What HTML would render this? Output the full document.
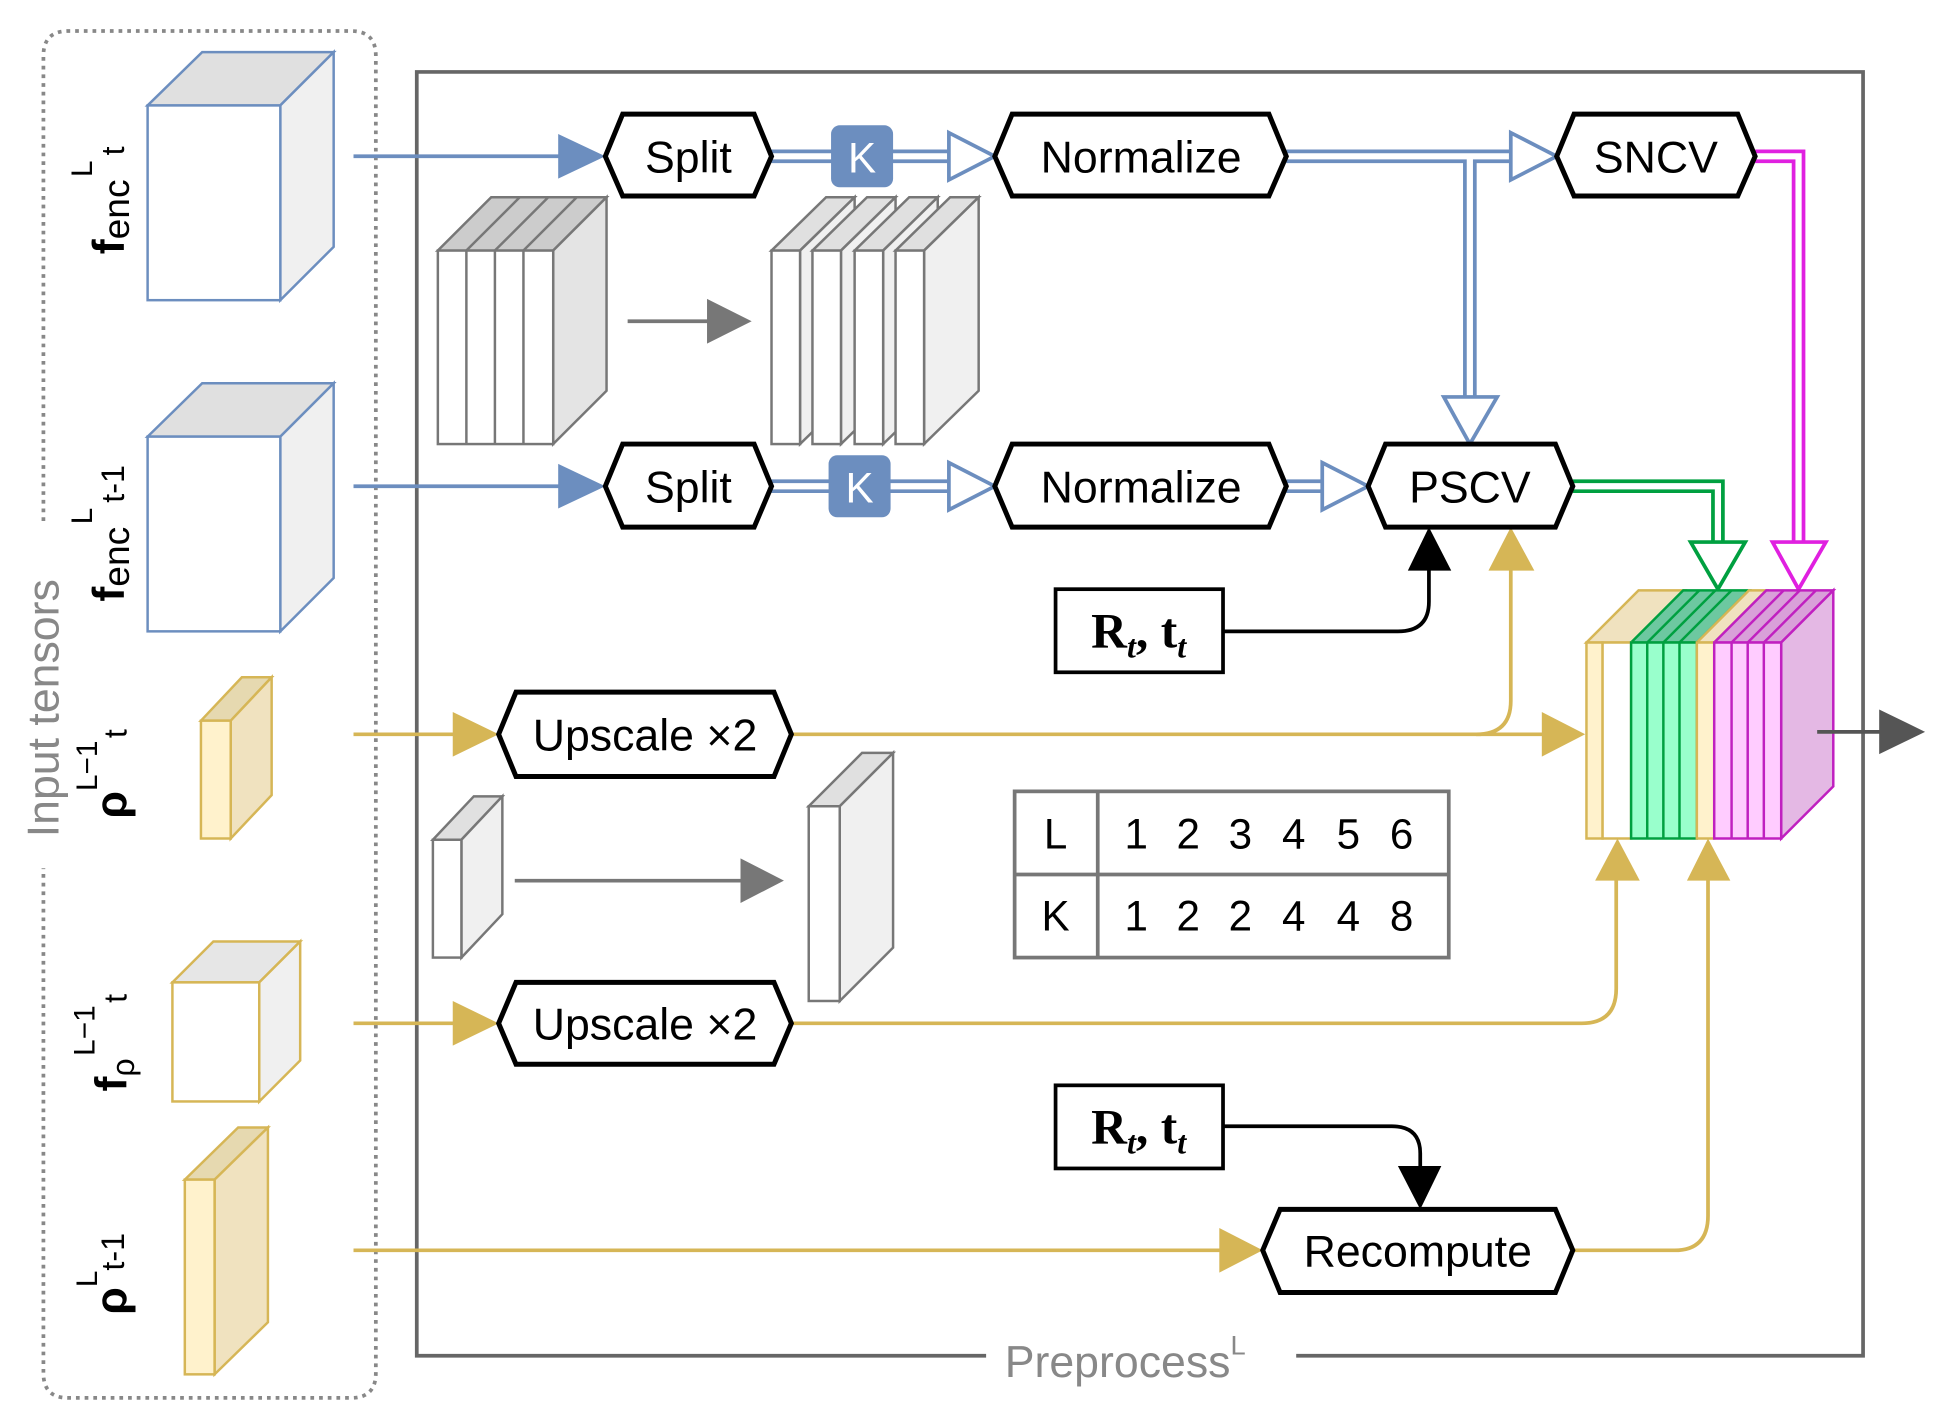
<!DOCTYPE html>
<html><head><meta charset="utf-8"><style>html,body{margin:0;padding:0;background:#fff}svg{display:block}</style></head><body>
<svg width="1935" height="1419" viewBox="0 0 1560 1144" preserveAspectRatio="none" xmlns="http://www.w3.org/2000/svg" font-family="Liberation Sans, sans-serif">
<path d="M35,420 L35,45 Q35,25 55,25 L283,25 Q303,25 303,45 L303,1107 Q303,1127 283,1127 L55,1127 Q35,1127 35,1107 L35,700" fill="none" stroke="#888" stroke-width="3" stroke-dasharray="3,4"/>
<text transform="translate(47,675) rotate(-90)" font-size="36" fill="#888">Input tensors</text>
<path d="M795,1093 L336,1093 L336,58 L1502,58 L1502,1093 L1045,1093" fill="none" stroke="#666" stroke-width="3"/>
<text x="810" y="1110" font-size="36" fill="#888">Preprocess<tspan font-size="22" dy="-18">L</tspan></text>

<g stroke="#6c8ebf" stroke-width="2">
<polygon points="119,85 163,42 269,42 226,85" fill="#e0e0e0"/><polygon points="226,85 269,42 269,199 226,242" fill="#f0f0f0"/><rect x="119" y="85" width="107" height="157" fill="#fff"/>
<polygon points="119,352 163,309 269,309 226,352" fill="#e0e0e0"/><polygon points="226,352 269,309 269,466 226,509" fill="#f0f0f0"/><rect x="119" y="352" width="107" height="157" fill="#fff"/>
</g>
<g stroke="#d6b656" stroke-width="2">
<polygon points="162,581 195,546 219,546 186,581" fill="#e6d9b0"/><polygon points="186,581 219,546 219,641 186,676" fill="#f0e2bf"/><rect x="162" y="581" width="24" height="95" fill="#fff2cc"/>
<polygon points="139,792 172,759 242,759 209,792" fill="#e6e6e6"/><polygon points="209,792 242,759 242,855 209,888" fill="#f0f0f0"/><rect x="139" y="792" width="70" height="96" fill="#fff"/>
<polygon points="149,951 192,909 216,909 173,951" fill="#e6d9b0"/><polygon points="173,951 216,909 216,1066 173,1108" fill="#f0e2bf"/><rect x="149" y="951" width="24" height="157" fill="#fff2cc"/>
</g>
<g fill="#000" font-size="36">
<text transform="translate(100,205) rotate(-90)"><tspan font-weight="bold">f</tspan><tspan font-size="30" dy="4">enc</tspan><tspan font-size="24" dx="2" dy="-30">L</tspan><tspan font-size="26" dx="4" dy="26">t</tspan></text>
<text transform="translate(100,485) rotate(-90)"><tspan font-weight="bold">f</tspan><tspan font-size="30" dy="4">enc</tspan><tspan font-size="24" dx="2" dy="-30">L</tspan><tspan font-size="26" dx="4" dy="26">t-1</tspan></text>
<text transform="translate(102,660) rotate(-90)"><tspan font-weight="bold">ρ</tspan><tspan font-size="24" dy="-24">L−1</tspan><tspan font-size="26" dx="2" dy="24">t</tspan></text>
<text transform="translate(102,880) rotate(-90)"><tspan font-weight="bold">f</tspan><tspan font-size="26" dy="6">ρ</tspan><tspan font-size="24" dx="2" dy="-32">L−1</tspan><tspan font-size="26" dx="2" dy="26">t</tspan></text>
<text transform="translate(102,1060) rotate(-90)"><tspan font-weight="bold">ρ</tspan><tspan font-size="24" dy="-24">L</tspan><tspan font-size="26" dy="22">t-1</tspan></text>
</g>

<g stroke="#6c8ebf" stroke-width="3" fill="#6c8ebf">
<line x1="285" y1="126" x2="455" y2="126"/><polygon points="450,108 488,126 450,144" stroke="none"/>
<line x1="285" y1="392" x2="455" y2="392"/><polygon points="450,374 488,392 450,410" stroke="none"/>
</g>
<g fill="none" stroke-linejoin="miter">
<path d="M622,126 L770,126 M1037,126 L1222,126 M1185,126 L1185,324" stroke="#6c8ebf" stroke-width="11"/>
<path d="M622,126 L770,126 M1037,126 L1222,126 M1185,126 L1185,326" stroke="#fff" stroke-width="5"/>
<path d="M622,392 L770,392 M1037,392 L1070,392" stroke="#6c8ebf" stroke-width="11"/>
<path d="M622,392 L770,392 M1037,392 L1072,392" stroke="#fff" stroke-width="5"/>
<path d="M1268,392 L1385,392 L1385,441" stroke="#00a040" stroke-width="11"/>
<path d="M1268,392 L1385,392 L1385,443" stroke="#fff" stroke-width="5"/>
<path d="M1415,126 L1450,126 L1450,441" stroke="#e020e0" stroke-width="11"/>
<path d="M1415,126 L1450,126 L1450,443" stroke="#fff" stroke-width="5"/>
</g>
<g fill="#fff" stroke-width="3">
<polygon points="765,107 802,126 765,145" stroke="#6c8ebf"/>
<polygon points="1218,107 1255,126 1218,145" stroke="#6c8ebf"/>
<polygon points="1164,320 1207,320 1185,358" stroke="#6c8ebf"/>
<polygon points="765,373 802,392 765,411" stroke="#6c8ebf"/>
<polygon points="1066,373 1103,392 1066,411" stroke="#6c8ebf"/>
<polygon points="1363,437 1407,437 1385,475" stroke="#00a040"/>
<polygon points="1429,437 1472,437 1450,475" stroke="#e020e0"/>
</g>
<rect x="670" y="101" width="50" height="50" rx="7" fill="#6c8ebf"/><text x="695" y="139" font-size="34" fill="#fff" text-anchor="middle">K</text>
<rect x="668" y="367" width="50" height="50" rx="7" fill="#6c8ebf"/><text x="693" y="405" font-size="34" fill="#fff" text-anchor="middle">K</text>

<g stroke="#d6b656" stroke-width="3" fill="none">
<line x1="285" y1="592" x2="370" y2="592"/>
<line x1="285" y1="825" x2="370" y2="825"/>
<line x1="285" y1="1008" x2="985" y2="1008"/>
<path d="M638,592 L1245,592"/>
<path d="M1190,592 Q1218,592 1218,565 L1218,458"/>
<path d="M638,825 L1275,825 Q1303,825 1303,797 L1303,708"/>
<path d="M1268,1008 L1350,1008 Q1377,1008 1377,980 L1377,708"/>
</g>
<g fill="#d6b656">
<polygon points="365,574 402,592 365,610"/><polygon points="365,807 402,825 365,843"/><polygon points="983,990 1018,1008 983,1026"/>
<polygon points="1243,574 1278,592 1243,610"/><polygon points="1200,460 1218,425 1237,460"/>
<polygon points="1286,710 1304,676 1322,710"/><polygon points="1360,710 1377,676 1395,710"/>
</g>
<g stroke="#000" stroke-width="3" fill="none">
<path d="M986,509 L1127,509 Q1152,509 1152,485 L1152,458"/>
<path d="M986,908 L1122,908 Q1145,908 1145,930 L1145,942"/>
</g>
<polygon points="1135,460 1152,425 1170,460" fill="#000"/>
<polygon points="1127,940 1162,940 1145,975" fill="#000"/>

<g fill="#fff" stroke="#000" stroke-width="4">
<polygon points="488,126 502,92 608,92 622,126 608,158 502,158"/>
<polygon points="802,126 816,92 1023,92 1037,126 1023,158 816,158"/>
<polygon points="1255,126 1269,92 1401,92 1415,126 1401,158 1269,158"/>
<polygon points="488,392 502,358 608,358 622,392 608,425 502,425"/>
<polygon points="802,392 816,358 1023,358 1037,392 1023,425 816,425"/>
<polygon points="1103,392 1117,358 1254,358 1268,392 1254,425 1117,425"/>
<polygon points="402,592 416,558 624,558 638,592 624,626 416,626"/>
<polygon points="402,825 416,792 624,792 638,825 624,858 416,858"/>
<polygon points="1018,1008 1032,975 1254,975 1268,1008 1254,1042 1032,1042"/>
</g>
<g font-size="36" text-anchor="middle" fill="#000">
<text x="555" y="139">Split</text><text x="920" y="139">Normalize</text><text x="1335" y="139">SNCV</text>
<text x="555" y="405">Split</text><text x="920" y="405">Normalize</text><text x="1185" y="405">PSCV</text>
<text x="520" y="605">Upscale ×2</text><text x="520" y="838">Upscale ×2</text><text x="1143" y="1021">Recompute</text>
</g>
<rect x="851" y="475" width="135" height="67" fill="#fff" stroke="#000" stroke-width="3"/>
<text x="918" y="522" font-family="Liberation Serif, serif" font-size="40" font-weight="bold" text-anchor="middle">R<tspan font-size="26" font-style="italic" dy="8">t</tspan><tspan dy="-8">, t</tspan><tspan font-size="26" font-style="italic" dy="8">t</tspan></text>
<rect x="851" y="875" width="135" height="67" fill="#fff" stroke="#000" stroke-width="3"/>
<text x="918" y="922" font-family="Liberation Serif, serif" font-size="40" font-weight="bold" text-anchor="middle">R<tspan font-size="26" font-style="italic" dy="8">t</tspan><tspan dy="-8">, t</tspan><tspan font-size="26" font-style="italic" dy="8">t</tspan></text>

<g stroke="#777" stroke-width="2">
<polygon points="353,202 396,159 489,159 446,202" fill="#ccc"/>
<line x1="376" y1="202" x2="419" y2="159"/><line x1="399" y1="202" x2="442" y2="159"/><line x1="422" y1="202" x2="465" y2="159"/>
<polygon points="446,202 489,159 489,315 446,358" fill="#e4e4e4"/>
<rect x="353" y="202" width="93" height="156" fill="#fff"/>
<line x1="376" y1="202" x2="376" y2="358"/><line x1="399" y1="202" x2="399" y2="358"/><line x1="422" y1="202" x2="422" y2="358"/>
</g>
<line x1="506" y1="259" x2="575" y2="259" stroke="#777" stroke-width="3"/><polygon points="570,241 606,259 570,277" fill="#777"/>
<g stroke="#777" stroke-width="2">
<g><polygon points="622,202 666,159 689,159 645,202" fill="#e0e0e0"/><polygon points="645,202 689,159 689,315 645,358" fill="#f0f0f0"/><rect x="622" y="202" width="23" height="156" fill="#fff"/></g>
<g><polygon points="655,202 699,159 722,159 678,202" fill="#e0e0e0"/><polygon points="678,202 722,159 722,315 678,358" fill="#f0f0f0"/><rect x="655" y="202" width="23" height="156" fill="#fff"/></g>
<g><polygon points="689,202 733,159 756,159 712,202" fill="#e0e0e0"/><polygon points="712,202 756,159 756,315 712,358" fill="#f0f0f0"/><rect x="689" y="202" width="23" height="156" fill="#fff"/></g>
<g><polygon points="722,202 766,159 789,159 745,202" fill="#e0e0e0"/><polygon points="745,202 789,159 789,315 745,358" fill="#f0f0f0"/><rect x="722" y="202" width="23" height="156" fill="#fff"/></g>
<polygon points="349,677 382,642 405,642 372,677" fill="#e0e0e0"/><polygon points="372,677 405,642 405,737 372,772" fill="#f0f0f0"/><rect x="349" y="677" width="23" height="95" fill="#fff"/>
<polygon points="652,650 695,607 720,607 677,650" fill="#e0e0e0"/><polygon points="677,650 720,607 720,764 677,807" fill="#f0f0f0"/><rect x="652" y="650" width="25" height="157" fill="#fff"/>
</g>
<line x1="415" y1="710" x2="600" y2="710" stroke="#777" stroke-width="3"/><polygon points="597,692 632,710 597,728" fill="#777"/>

<g stroke="#777" stroke-width="3" fill="none"><rect x="818" y="638" width="350" height="134"/><line x1="818" y1="705" x2="1168" y2="705"/><line x1="885" y1="638" x2="885" y2="772"/></g>
<g font-size="34" text-anchor="middle" fill="#000">
<text x="851" y="684">L</text><text x="851" y="750">K</text>
<text x="916" y="684">1</text><text x="958" y="684">2</text><text x="1000" y="684">3</text><text x="1043" y="684">4</text><text x="1087" y="684">5</text><text x="1130" y="684">6</text>
<text x="916" y="750">1</text><text x="958" y="750">2</text><text x="1000" y="750">2</text><text x="1043" y="750">4</text><text x="1087" y="750">4</text><text x="1130" y="750">8</text>
</g>

<g stroke-width="2">
<polygon points="1279,518 1321,476 1358,476 1316,518" fill="#f0e2bf" stroke="#d6b656"/>
<polygon points="1315,518 1357,476 1410,476 1368,518" fill="#6dc8a0" stroke="#00a040"/>
<line x1="1328" y1="518" x2="1370" y2="476" stroke="#00a040"/><line x1="1341" y1="518" x2="1383" y2="476" stroke="#00a040"/><line x1="1354" y1="518" x2="1396" y2="476" stroke="#00a040"/>
<polygon points="1368,518 1410,476 1424,476 1382,518" fill="#f0e2bf" stroke="#d6b656"/>
<polygon points="1382,518 1424,476 1478,476 1436,518" fill="#d9a0d9" stroke="#c020c0"/>
<line x1="1396" y1="518" x2="1438" y2="476" stroke="#c020c0"/><line x1="1409" y1="518" x2="1451" y2="476" stroke="#c020c0"/><line x1="1422" y1="518" x2="1464" y2="476" stroke="#c020c0"/>
<polygon points="1436,518 1478,476 1478,634 1436,676" fill="#e4b8e4" stroke="#c020c0"/>
<rect x="1279" y="518" width="13" height="158" fill="#fff2cc" stroke="#d6b656"/>
<rect x="1292" y="518" width="23" height="158" fill="#fff" stroke="#d6b656"/>
<rect x="1315" y="518" width="53" height="158" fill="#99ffcc" stroke="#00a040"/>
<line x1="1328" y1="518" x2="1328" y2="676" stroke="#00a040"/><line x1="1341" y1="518" x2="1341" y2="676" stroke="#00a040"/><line x1="1354" y1="518" x2="1354" y2="676" stroke="#00a040"/>
<rect x="1368" y="518" width="14" height="158" fill="#fff2cc" stroke="#d6b656"/>
<rect x="1382" y="518" width="54" height="158" fill="#ffccff" stroke="#c020c0"/>
<line x1="1396" y1="518" x2="1396" y2="676" stroke="#c020c0"/><line x1="1409" y1="518" x2="1409" y2="676" stroke="#c020c0"/><line x1="1422" y1="518" x2="1422" y2="676" stroke="#c020c0"/>
</g>
<line x1="1465" y1="590" x2="1520" y2="590" stroke="#555" stroke-width="3"/><polygon points="1515,572 1552,590 1515,608" fill="#555"/>
</svg>
</body></html>
